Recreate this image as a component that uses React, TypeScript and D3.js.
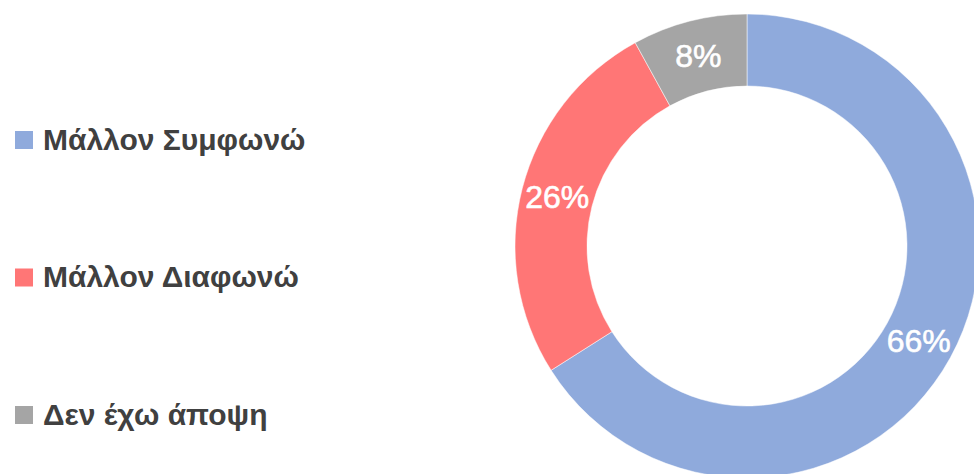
import React from "react";
import * as d3 from "d3";

const categories = ["Μάλλον Συμφωνώ", "Μάλλον Διαφωνώ", "Δεν έχω άποψη"];
const values = [66, 26, 8];
const colors = ["#8FAADC", "#FF7676", "#A5A5A5"];

const W = 974;
const H = 474;
const cx = 747;
const cy = 246;
const outerR = 232;
const innerR = 160;

export default function App() {
  const total = d3.sum(values);
  const pie = d3
    .pie<number>()
    .sort(null)
    .value((d) => d);
  const arcs = pie(values);
  const arc = d3.arc<d3.PieArcDatum<number>>().innerRadius(innerR).outerRadius(outerR);

  const legendY = d3.scalePoint<string>().domain(categories).range([140, 415]);

  return (
    <svg
      width={W}
      height={H}
      style={{ position: "fixed", left: 0, top: 0, background: "#fff" }}
      fontFamily="'Liberation Sans', Arial, sans-serif"
    >
      <g transform={`translate(${cx},${cy})`}>
        {arcs.map((a, i) => (
          <path key={i} d={arc(a) || ""} fill={colors[i]} stroke="#fff" strokeWidth={0.5} />
        ))}
        {arcs.map((a, i) => {
          const [x, y] = arc.centroid(a);
          return (
            <text
              key={"l" + i}
              x={x}
              y={y}
              dy="0.35em"
              textAnchor="middle"
              fill="#fff"
              stroke="#fff"
              strokeWidth={0.6}
              fontSize={32}
            >
              {Math.round((values[i] / total) * 100)}%
            </text>
          );
        })}
      </g>
      {categories.map((c, i) => {
        const y = legendY(c) as number;
        return (
          <g key={c}>
            <rect x={15} y={y - 9} width={18} height={18} fill={colors[i]} />
            <text x={43} y={y} dy="0.33em" fontSize={30} fontWeight="bold" fill="#404040">
              {c}
            </text>
          </g>
        );
      })}
    </svg>
  );
}
